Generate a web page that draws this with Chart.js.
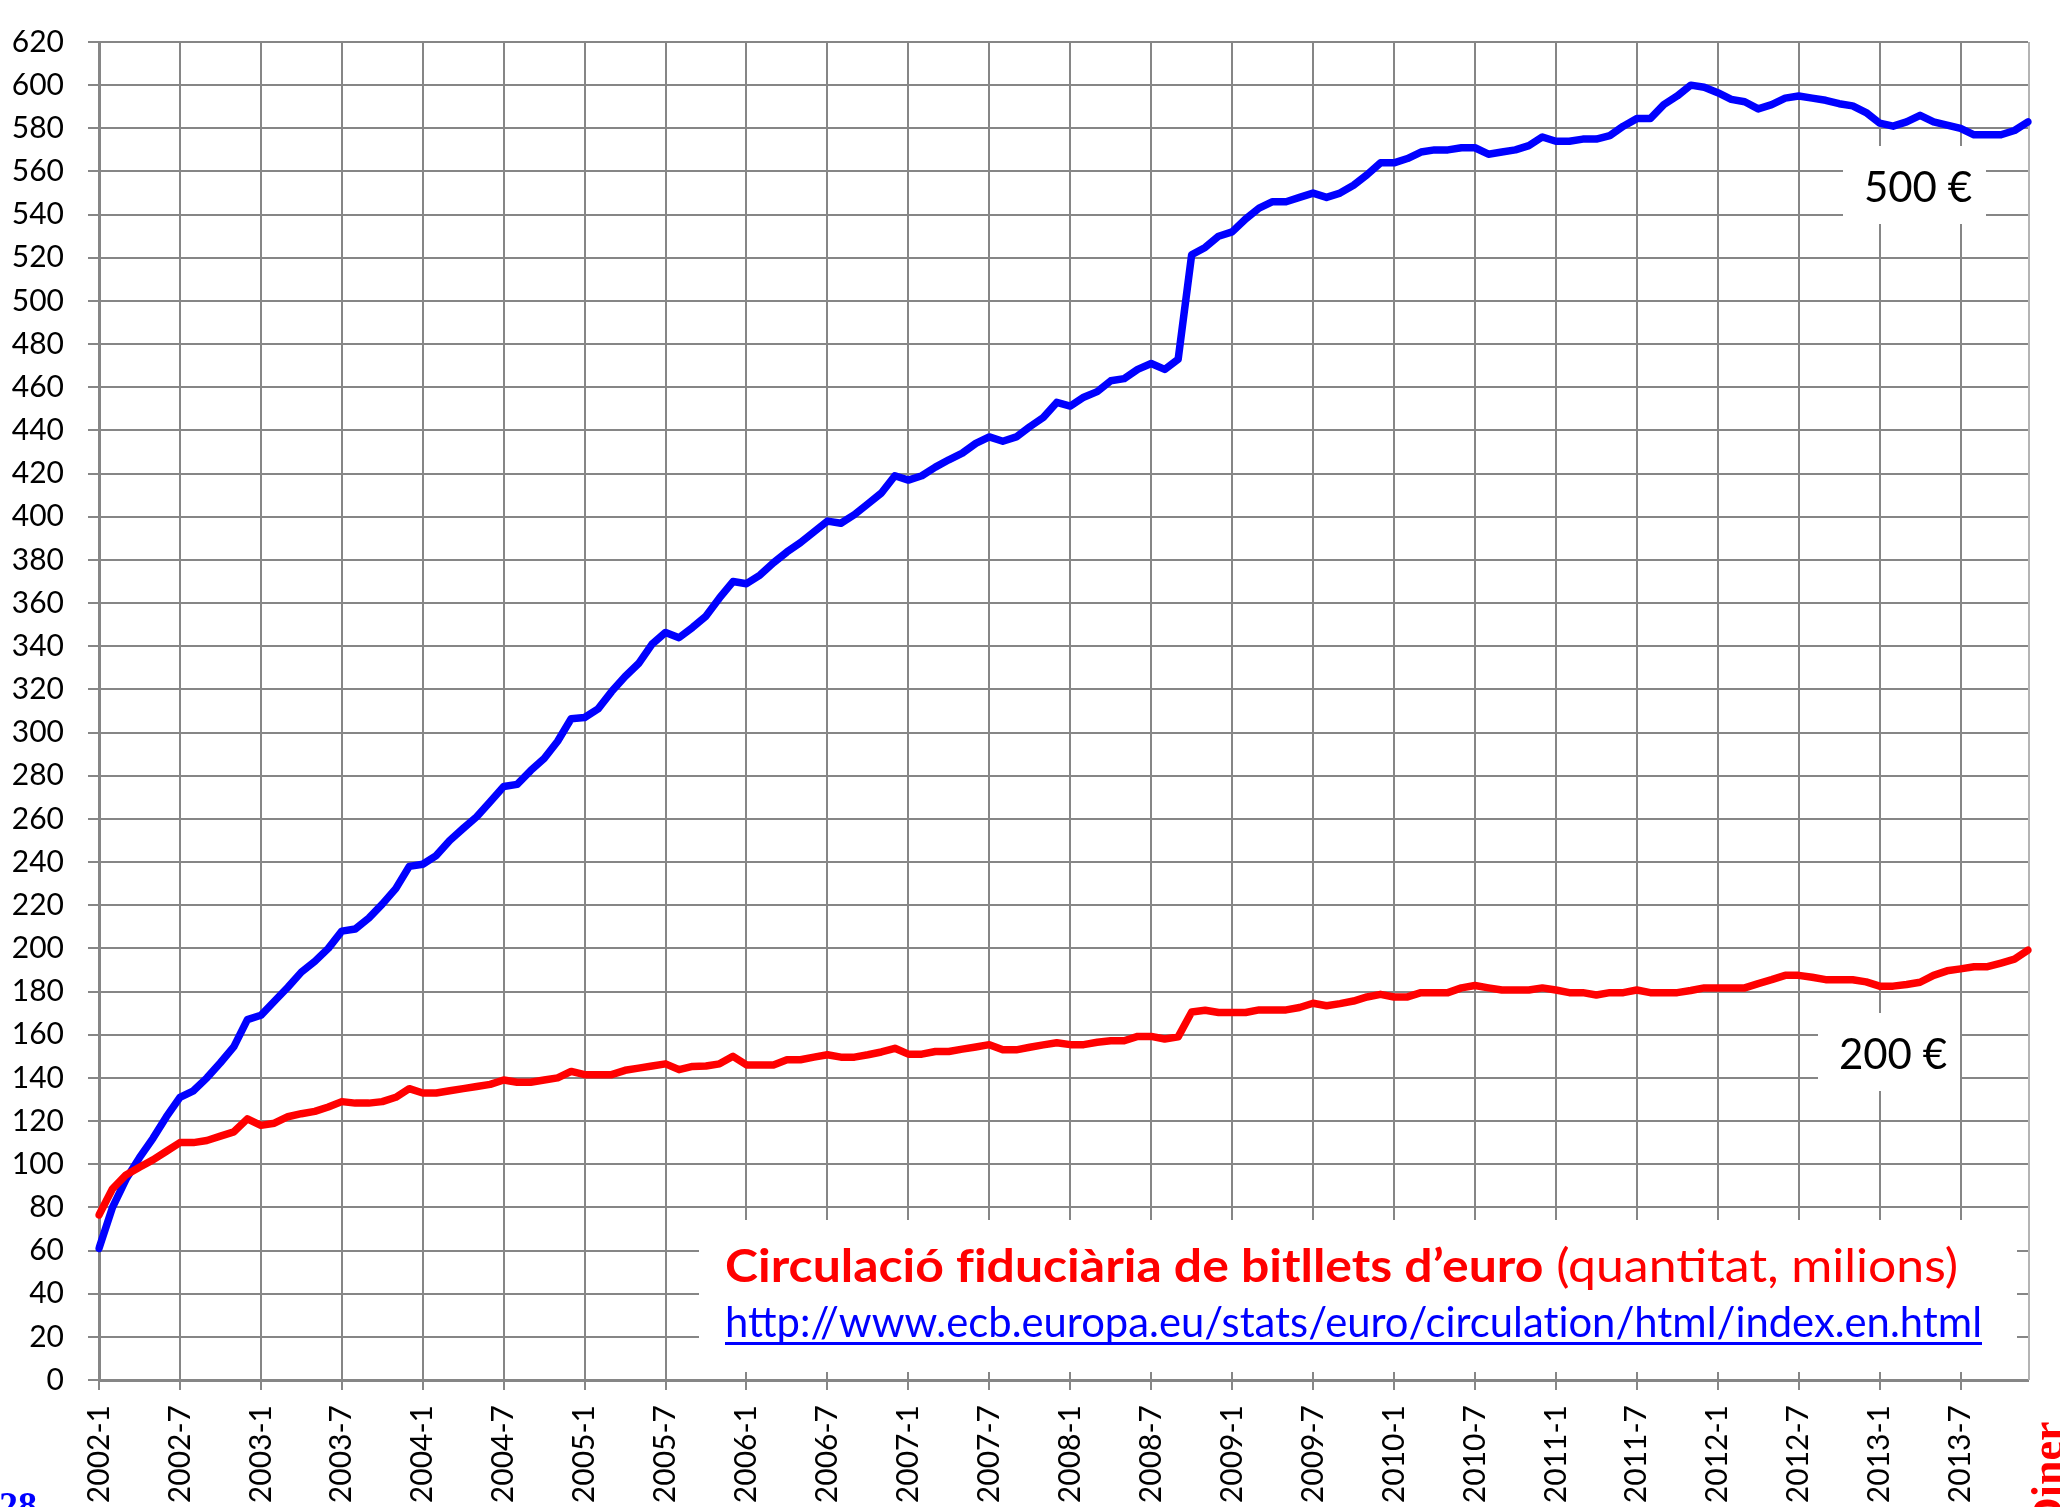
<!DOCTYPE html>
<html>
<head>
<meta charset="utf-8">
<title>Circulació fiduciària de bitllets d'euro</title>
<script src="https://cdn.jsdelivr.net/npm/chart.js@4.4.1/dist/chart.umd.min.js"></script>
<style>
  html, body { margin: 0; padding: 0; background: #fff; }
  #wrap { width: 2060px; height: 1507px; }
</style>
</head>
<body>
<div id="wrap"><canvas id="chart" width="2060" height="1507"></canvas></div>
<script>
// Mesos de gener 2002 a desembre 2013
const years = [2002, 2003, 2004, 2005, 2006, 2007, 2008, 2009, 2010, 2011, 2012, 2013];
const months = [1, 2, 3, 4, 5, 6, 7, 8, 9, 10, 11, 12];
const labels = [];
years.forEach(y => months.forEach(m => labels.push(y + '-' + m)));

// Bitllets en circulació (milions)
const billets500 = [
  61, 80, 93, 103, 112, 122, 131, 134, 140, 147, 154.5, 167,
  169, 175.5, 182, 189, 194, 200, 208, 209, 214, 220.5, 227.7, 238,
  239, 243, 250, 255.6, 261, 268, 275, 276, 282.4, 288, 296, 306.4,
  307, 311, 319, 326, 332, 341, 346.4, 344, 348.7, 354, 362.4, 370,
  369, 373, 378.7, 383.7, 388, 393, 398, 397, 401, 406, 411, 419,
  417, 419, 423, 426.4, 429.5, 434, 437, 435, 437, 441.7, 446, 453,
  451.3, 455.4, 458, 463, 464, 468.3, 471, 468.3, 473, 521.4, 524.8, 530,
  532, 538, 543, 546, 546, 548, 550, 548, 550, 553.6, 558.5, 564,
  564, 566, 569, 570, 570, 571, 571, 568, 569, 570, 572, 576,
  574, 574, 575, 575, 576.6, 581, 584.5, 584.5, 591, 595, 600, 599,
  596.5, 593.4, 592.3, 589, 591, 594, 595, 594, 593, 591.4, 590.4, 587.3,
  582.4, 581, 583, 586, 583, 581.5, 580, 577, 577, 577, 579, 583
];
const billets200 = [
  76.5, 88.6, 95, 98.6, 102, 106, 110, 110, 111, 113, 115, 121,
  118, 119, 122, 123.4, 124.5, 126.5, 129, 128.3, 128.3, 129, 131, 135,
  133, 133, 134, 135, 136, 137, 139, 138, 138, 139, 140, 143,
  141.5, 141.5, 141.5, 143.5, 144.5, 145.5, 146.5, 143.8, 145.3, 145.5, 146.5, 150,
  146, 146, 146, 148.4, 148.4, 149.6, 150.7, 149.6, 149.6, 150.7, 152, 153.7,
  151, 151, 152.2, 152.2, 153.3, 154.3, 155.4, 153, 153, 154.2, 155.3, 156.3,
  155.4, 155.4, 156.5, 157.2, 157.2, 159.2, 159.2, 158, 159, 170.5, 171.3, 170.3,
  170.3, 170.3, 171.5, 171.5, 171.5, 172.6, 174.6, 173.4, 174.4, 175.6, 177.5, 178.7,
  177.5, 177.5, 179.5, 179.5, 179.5, 181.7, 182.8, 181.7, 180.7, 180.7, 180.7, 181.7,
  180.7, 179.5, 179.5, 178.4, 179.5, 179.5, 180.7, 179.5, 179.5, 179.5, 180.5, 181.7,
  181.7, 181.7, 181.7, 183.7, 185.5, 187.5, 187.5, 186.6, 185.5, 185.5, 185.5, 184.5,
  182.5, 182.5, 183.3, 184.3, 187.5, 189.6, 190.5, 191.5, 191.5, 193.2, 195, 199.2
];

const gridColor = '#868686';

// Escriu trossos de text comprimits a una amplada donada.
// El text es talla a cada '|' i cada tros es pinta a part (sense lligadures fi / ti).
function drawFitted(ctx, runs, x, y, width) {
  const pieces = [];
  runs.forEach(r => {
    ctx.font = r.font;
    r.text.split('|').forEach(t => pieces.push({ text: t, font: r.font, color: r.color, w: ctx.measureText(t).width }));
  });
  const total = pieces.reduce((s, p) => s + p.w, 0);
  const sx = width / total;
  ctx.save();
  ctx.translate(x, y);
  ctx.scale(sx, 1);
  let cx = 0;
  pieces.forEach(p => {
    ctx.font = p.font;
    ctx.fillStyle = p.color;
    ctx.fillText(p.text, cx, 0);
    cx += p.w;
  });
  ctx.restore();
}

// Quadres de text sobre la graella
const notesPlugin = {
  id: 'notes',
  beforeDatasetsDraw(chart) {
    const ctx = chart.ctx;
    const area = chart.chartArea;
    ctx.save();
    ctx.strokeStyle = '#b4b4b4';
    ctx.lineWidth = 2;
    ctx.beginPath();
    ctx.moveTo(area.right + 1, area.top);
    ctx.lineTo(area.right + 1, area.bottom);
    ctx.stroke();

    ctx.fillStyle = '#fff';
    ctx.fillRect(1843, 146, 143, 78);
    ctx.fillRect(1818, 1013, 142, 78);
    ctx.fillRect(699, 1220, 1318, 152);

    ctx.fillStyle = '#000';
    ctx.font = '42px Lato';
    ctx.textAlign = 'center';
    ctx.textBaseline = 'middle';
    ctx.fillText('500 €', 1918, 188);
    ctx.fillText('200 €', 1893, 1055);

    ctx.textAlign = 'left';
    ctx.textBaseline = 'alphabetic';
    drawFitted(ctx, [
      { text: 'Circulació f|iduciària de bitllets d’euro', font: 'bold 46px Lato', color: '#ff0000' },
      { text: ' (quantit|at, milions)', font: '46px Lato', color: '#ff0000' }
    ], 725, 1282, 1233);
    drawFitted(ctx, [
      { text: 'http://www.ecb.europa.eu/stats/euro/circulat|ion/html/index.en.html', font: '43px Lato', color: '#0000ff' }
    ], 725, 1337, 1257);
    ctx.fillStyle = '#0000ff';
    ctx.fillRect(725, 1342, 1257, 3);
    ctx.restore();
  },
  afterDraw(chart) {
    const ctx = chart.ctx;
    ctx.save();
    ctx.fillStyle = '#0000ff';
    ctx.font = 'bold 38px "Liberation Serif"';
    ctx.textAlign = 'left';
    ctx.fillText('28', -1, 1518);

    ctx.translate(2062, 1529);
    ctx.rotate(-Math.PI / 2);
    ctx.fillStyle = '#ff0000';
    ctx.font = 'bold 44px "Liberation Serif"';
    ctx.fillText('Diner', 0, 0);
    ctx.restore();
  }
};

Chart.defaults.font.family = 'Lato';
Chart.defaults.color = '#000';

const ctx = document.getElementById('chart').getContext('2d');
new Chart(ctx, {
  type: 'line',
  data: {
    labels,
    datasets: [
      { label: '200 €', data: billets200, borderColor: '#ff0000', borderWidth: 7.5 },
      { label: '500 €', data: billets500, borderColor: '#0000ff', borderWidth: 7.5 }
    ]
  },
  options: {
    responsive: false,
    animation: false,
    devicePixelRatio: 1,
    layout: { padding: { top: 25, right: 32, left: 0, bottom: 0 } },
    elements: {
      point: { radius: 0 },
      line: { tension: 0, borderJoinStyle: 'round', borderCapStyle: 'round' }
    },
    plugins: { legend: { display: false }, tooltip: { enabled: false } },
    scales: {
      x: {
        offset: false,
        afterFit: s => { s.height = 127; },
        grid: { color: gridColor, lineWidth: 2, tickLength: 10 },
        border: { color: gridColor, width: 3 },
        ticks: {
          autoSkip: false,
          minRotation: 90,
          maxRotation: 90,
          padding: 15,
          font: { size: 30 },
          // les etiquetes buides amaguen també la línia de la graella
          callback: (v, i) => (i % 6 === 0 ? labels[i] : null)
        }
      },
      y: {
        min: 0,
        max: 620,
        afterFit: s => { s.width = 99; },
        grid: { color: gridColor, lineWidth: 2, tickLength: 11 },
        border: { color: gridColor, width: 3 },
        ticks: { stepSize: 20, padding: 24, font: { size: 30 } }
      }
    }
  },
  plugins: [notesPlugin]
});
</script>
</body>
</html>
